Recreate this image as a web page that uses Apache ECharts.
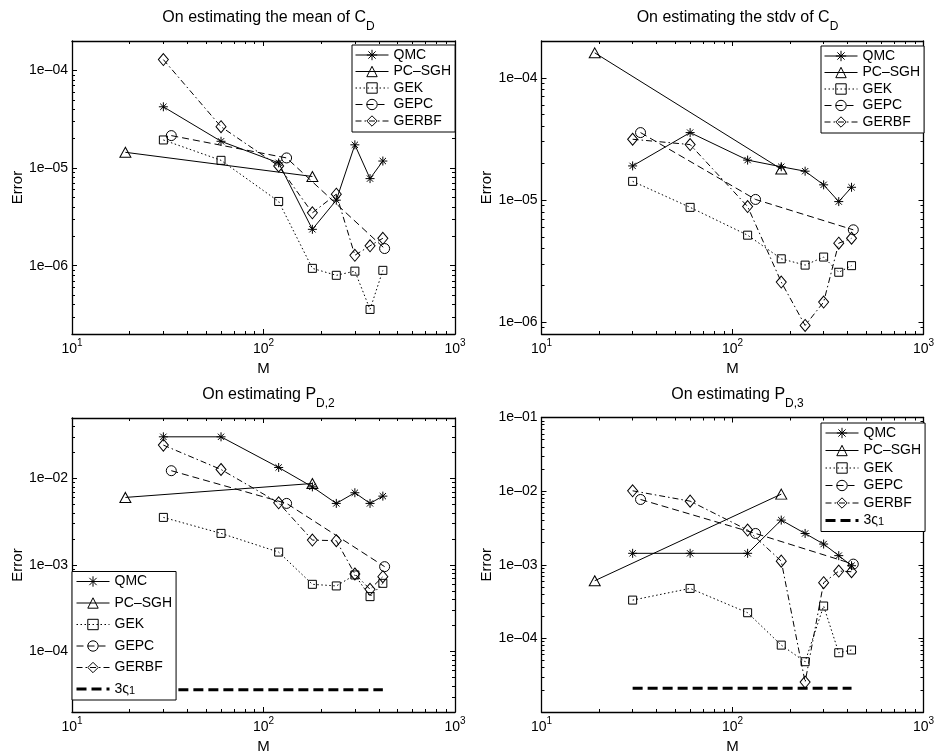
<!DOCTYPE html>
<html>
<head>
<meta charset="utf-8">
<title>Error against M</title>
<script src="https://cdn.jsdelivr.net/npm/echarts@6.0.0/dist/echarts.min.js"></script>
<style>
  html, body { margin: 0; padding: 0; background: #fff; }
  #chart { width: 935px; height: 754px; }
</style>
</head>
<body>
<div id="chart"></div>
<script>
// sample counts M for each method
const mFull = [30, 60, 120, 180, 240, 300, 360, 420];
const mPcsgh = [19, 180];
const mGepc = [33, 132, 429];
const mBound = [30, 420];

// on estimating the mean of C_D
const meanQmc = [4.24e-5, 1.88e-5, 1.13e-5, 2.36e-6, 4.69e-6, 1.73e-5, 7.8e-6, 1.18e-5];
const meanPcsgh = [1.45e-5, 8.2e-6];
const meanGek = [1.94e-5, 1.2e-5, 4.55e-6, 9.4e-7, 7.98e-7, 8.8e-7, 3.57e-7, 8.97e-7];
const meanGepc = [2.15e-5, 1.27e-5, 1.5e-6];
const meanGerbf = [1.29e-4, 2.65e-5, 1.05e-5, 3.48e-6, 5.4e-6, 1.28e-6, 1.6e-6, 1.91e-6];

// on estimating the stdv of C_D
const stdvQmc = [1.9e-5, 3.56e-5, 2.12e-5, 1.87e-5, 1.72e-5, 1.33e-5, 9.7e-6, 1.27e-5];
const stdvPcsgh = [1.6e-4, 1.79e-5];
const stdvGek = [1.42e-5, 8.7e-6, 5.15e-6, 3.3e-6, 2.93e-6, 3.41e-6, 2.56e-6, 2.9e-6];
const stdvGepc = [3.56e-5, 1.01e-5, 5.7e-6];
const stdvGerbf = [3.14e-5, 2.84e-5, 8.83e-6, 2.13e-6, 9.4e-7, 1.46e-6, 4.43e-6, 4.86e-6];

// on estimating P_D,2
const p2Qmc = [3.03e-2, 3.03e-2, 1.34e-2, 8.0e-3, 5.15e-3, 6.84e-3, 5.15e-3, 6.25e-3];
const p2Pcsgh = [6.04e-3, 8.75e-3];
const p2Gek = [3.55e-3, 2.32e-3, 1.41e-3, 5.98e-4, 5.73e-4, 7.67e-4, 4.31e-4, 6.14e-4];
const p2Gepc = [1.23e-2, 5.15e-3, 9.57e-4];
const p2Gerbf = [2.43e-2, 1.27e-2, 5.23e-3, 1.94e-3, 1.91e-3, 7.87e-4, 5.24e-4, 7.33e-4];
const p2Bound = [3.61e-5, 3.61e-5];

// on estimating P_D,3
const p3Qmc = [1.43e-3, 1.43e-3, 1.43e-3, 4.04e-3, 2.66e-3, 1.91e-3, 1.33e-3, 9.7e-4];
const p3Pcsgh = [6.07e-4, 9.1e-3];
const p3Gek = [3.31e-4, 4.77e-4, 2.23e-4, 8.1e-5, 4.82e-5, 2.75e-4, 6.38e-5, 6.95e-5];
const p3Gepc = [7.7e-3, 2.66e-3, 1.02e-3];
const p3Gerbf = [1.01e-2, 7.31e-3, 2.96e-3, 1.12e-3, 2.55e-5, 5.7e-4, 8.2e-4, 8.04e-4];
const p3Bound = [2.1e-5, 2.1e-5];

// ticks
const xTicks = [10, 100, 1000];
const yTicksMean = [1e-6, 1e-5, 1e-4];
const yTicksStdv = [1e-6, 1e-5, 1e-4];
const yTicksP2 = [1e-4, 1e-3, 1e-2];
const yTicksP3 = [1e-4, 1e-3, 1e-2, 1e-1];

const names = ["QMC", "PC–SGH", "GEK", "GEPC", "GERBF"];
const boundName = "3ς1";

const FONT = "Liberation Sans, Arial, Helvetica, sans-serif";
const asterisk = "path://M5,0L5,10M0,5L10,5M1.5,1.5L8.5,8.5M1.5,8.5L8.5,1.5";

const styles = {
  "QMC": { symbol: asterisk, size: 9, dash: "solid" },
  "PC–SGH": { symbol: "triangle", size: [11, 10], dash: "solid" },
  "GEK": { symbol: "rect", size: 8, dash: [1.5, 2.5] },
  "GEPC": { symbol: "circle", size: 10, dash: [7, 4] },
  "GERBF": { symbol: "diamond", size: [10, 12], dash: [6, 3, 1.5, 3] },
};

const panels = [
  {
    title: "On estimating the mean of C{sub|D}",
    grid: { left: 72, top: 41, width: 383, height: 293 },
    yMin: 2e-7, yMax: 2e-4, yTicks: yTicksMean,
    legend: { left: 352, top: 45, gap: 2.5 },
    data: [meanQmc, meanPcsgh, meanGek, meanGepc, meanGerbf],
  },
  {
    title: "On estimating the stdv of C{sub|D}",
    grid: { left: 541.5, top: 41, width: 382, height: 293 },
    yMin: 8e-7, yMax: 2e-4, yTicks: yTicksStdv,
    legend: { left: 821, top: 46, gap: 2.5 },
    data: [stdvQmc, stdvPcsgh, stdvGek, stdvGepc, stdvGerbf],
  },
  {
    title: "On estimating P{sub|D,2}",
    grid: { left: 72, top: 418, width: 383, height: 294 },
    yMin: 2e-5, yMax: 5e-2, yTicks: yTicksP2,
    legend: { left: 72, top: 571.5, gap: 7.5 },
    data: [p2Qmc, p2Pcsgh, p2Gek, p2Gepc, p2Gerbf],
    bound: p2Bound,
  },
  {
    title: "On estimating P{sub|D,3}",
    grid: { left: 541.5, top: 417.5, width: 382, height: 294.5 },
    yMin: 1e-5, yMax: 1e-1, yTicks: yTicksP3,
    legend: { left: 821, top: 423, gap: 3.5 },
    data: [p3Qmc, p3Pcsgh, p3Gek, p3Gepc, p3Gerbf],
    bound: p3Bound,
  },
];

function minorTicks(lo, hi) {
  const out = [];
  for (let d = Math.pow(10, Math.floor(Math.log10(lo))); d < hi; d *= 10) {
    for (let k = 2; k <= 9; k++) {
      const v = +(k * d).toPrecision(3);
      if (v > lo && v < hi) out.push(v);
    }
  }
  return out;
}

function expLabel(v) {
  const e = Math.round(Math.log10(v));
  return "1e" + (e < 0 ? "–" : "+") + String(Math.abs(e)).padStart(2, "0");
}

const black = { color: "#000", width: 1 };

function xAxes(p) {
  const base = { type: "log", logBase: 10, gridIndex: p, min: 10, max: 1000, splitLine: { show: false } };
  const line = { show: true, onZero: false, lineStyle: { color: "#000", width: 1.3 } };
  const minor = minorTicks(10, 1000);
  return [
    Object.assign({}, base, {
      position: "bottom",
      axisLine: line,
      axisTick: { show: true, inside: true, length: 5, customValues: xTicks, lineStyle: black },
      axisLabel: {
        customValues: xTicks, margin: 4, color: "#000", fontSize: 14, fontFamily: FONT, lineHeight: 22,
        formatter: (v) => "10{sup|" + Math.round(Math.log10(v)) + "}",
        rich: { sup: { fontSize: 10, lineHeight: 11, verticalAlign: "top", fontFamily: FONT, color: "#000" } },
      },
      name: "M", nameLocation: "middle", nameGap: 24,
      nameTextStyle: { color: "#000", fontSize: 15, fontFamily: FONT, verticalAlign: "top" },
    }),
    Object.assign({}, base, {
      position: "top", axisLine: line,
      axisTick: { show: true, inside: true, length: 5, customValues: xTicks, lineStyle: black },
      axisLabel: { show: false },
    }),
    Object.assign({}, base, {
      position: "bottom", axisLine: { show: false },
      axisTick: { show: true, inside: true, length: 3, customValues: minor, lineStyle: black },
      axisLabel: { show: false },
    }),
    Object.assign({}, base, {
      position: "top", axisLine: { show: false },
      axisTick: { show: true, inside: true, length: 3, customValues: minor, lineStyle: black },
      axisLabel: { show: false },
    }),
  ];
}

function yAxes(p, cfg) {
  const base = { type: "log", logBase: 10, gridIndex: p, min: cfg.yMin, max: cfg.yMax, splitLine: { show: false } };
  const line = { show: true, onZero: false, lineStyle: { color: "#000", width: 1.3 } };
  const minor = minorTicks(cfg.yMin, cfg.yMax);
  return [
    Object.assign({}, base, {
      position: "left",
      axisLine: line,
      axisTick: { show: true, inside: true, length: 5, customValues: cfg.yTicks, lineStyle: black },
      axisLabel: {
        customValues: cfg.yTicks, margin: 4, color: "#000", fontSize: 14, fontFamily: FONT,
        formatter: expLabel,
      },
      name: "Error", nameLocation: "middle", nameGap: 47,
      nameTextStyle: { color: "#000", fontSize: 15, fontFamily: FONT },
    }),
    Object.assign({}, base, {
      position: "right", axisLine: line,
      axisTick: { show: true, inside: true, length: 5, customValues: cfg.yTicks, lineStyle: black },
      axisLabel: { show: false },
    }),
    Object.assign({}, base, {
      position: "left", axisLine: { show: false },
      axisTick: { show: true, inside: true, length: 3, customValues: minor, lineStyle: black },
      axisLabel: { show: false },
    }),
    Object.assign({}, base, {
      position: "right", axisLine: { show: false },
      axisTick: { show: true, inside: true, length: 3, customValues: minor, lineStyle: black },
      axisLabel: { show: false },
    }),
  ];
}

function methodSeries(p, name, xs, ys) {
  const st = styles[name];
  return {
    type: "line", name: name,
    xAxisIndex: p * 4, yAxisIndex: p * 4,
    data: xs.map((x, i) => [x, ys[i]]),
    symbol: st.symbol, symbolSize: st.size,
    lineStyle: { color: "#000", width: 1, type: st.dash },
    itemStyle: { color: "rgba(0,0,0,0)", borderColor: "#000", borderWidth: 1 },
    emphasis: { disabled: true },
    z: 3,
  };
}

function boundSeries(p, ys) {
  return {
    type: "line", name: boundName,
    xAxisIndex: p * 4, yAxisIndex: p * 4,
    data: mBound.map((x, i) => [x, ys[i]]),
    symbol: "none",
    lineStyle: { color: "#000", width: 3, type: [10, 5] },
    itemStyle: { color: "rgba(0,0,0,0)", borderColor: "rgba(0,0,0,0)", borderWidth: 0 },
    emphasis: { disabled: true },
    z: 2,
  };
}

// legend entries carry their own widths so the legend does not thicken them
function legendItems(withBound) {
  const items = names.map((n) => ({
    name: n,
    lineStyle: { width: 1 },
    itemStyle: { borderWidth: 1 },
  }));
  if (withBound) {
    items.push({ name: boundName, lineStyle: { width: 3 }, itemStyle: { borderWidth: 0 } });
  }
  return items;
}

const xMs = [mFull, mPcsgh, mFull, mGepc, mFull];

const option = {
  animation: false,
  backgroundColor: "#fff",
  textStyle: { fontFamily: FONT },
  title: [],
  grid: [],
  legend: [],
  xAxis: [],
  yAxis: [],
  series: [],
};

panels.forEach((cfg, p) => {
  option.grid.push(Object.assign({ show: false, containLabel: false, outerBoundsMode: "none" }, cfg.grid));
  option.title.push({
    text: cfg.title,
    left: cfg.grid.left + cfg.grid.width / 2,
    top: cfg.grid.top - 43,
    textAlign: "center",
    textStyle: {
      color: "#000", fontSize: 16, fontWeight: "normal", fontFamily: FONT, lineHeight: 30,
      rich: { sub: { fontSize: 12, lineHeight: 12, verticalAlign: "bottom", fontFamily: FONT, color: "#000" } },
    },
  });
  option.xAxis.push(...xAxes(p));
  option.yAxis.push(...yAxes(p, cfg));
  names.forEach((n, i) => option.series.push(methodSeries(p, n, xMs[i], cfg.data[i])));
  if (cfg.bound) option.series.push(boundSeries(p, cfg.bound));
  option.legend.push({
    left: cfg.legend.left, top: cfg.legend.top,
    orient: "vertical",
    data: legendItems(!!cfg.bound),
    selectedMode: false,
    backgroundColor: "#fff",
    borderColor: "#000", borderWidth: 1, borderRadius: 0,
    padding: [3, 4, 4, 3],
    itemWidth: 33, itemHeight: 13, itemGap: cfg.legend.gap,
    formatter: (n) => (n === boundName ? "3ς{sub|1}" : n),
    textStyle: {
      color: "#000", fontSize: 14, fontFamily: FONT, lineHeight: 14,
      rich: { sub: { fontSize: 11, lineHeight: 14, verticalAlign: "bottom", fontFamily: FONT, color: "#000" } },
    },
    z: 10,
  });
});

const chart = echarts.init(document.getElementById("chart"), null, { renderer: "canvas" });
chart.setOption(option);
</script>
</body>
</html>
